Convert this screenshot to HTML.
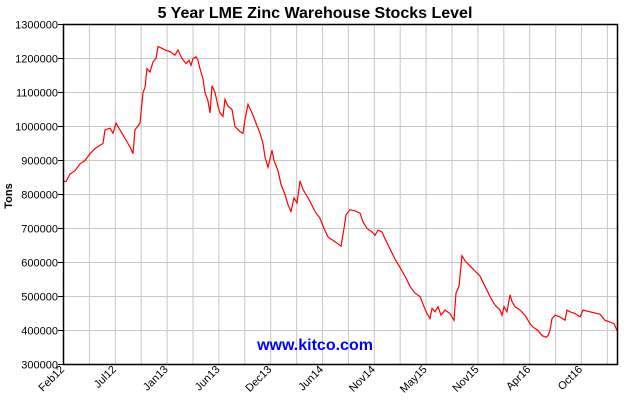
<!DOCTYPE html>
<html><head><meta charset="utf-8"><style>
body{margin:0;background:#fff;}
svg{display:block;font-family:"Liberation Sans",Arial,sans-serif;}
</style></head><body>
<svg id="s" width="630" height="400" xmlns="http://www.w3.org/2000/svg">
<text x="315" y="18" text-anchor="middle" font-size="16" font-weight="bold">5 Year LME Zinc Warehouse Stocks Level</text>
<text transform="translate(12,196) rotate(-90)" text-anchor="middle" font-size="11" font-weight="bold">Tons</text>
<g id="grid" stroke="#c8c8c8" stroke-width="1"></g>
<g id="lab" font-size="11"></g>
<polyline id="ln" fill="none" stroke="#ff0000" stroke-width="1.2"/>
<text x="315" y="350" text-anchor="middle" font-size="16" font-weight="bold" fill="#0000ff">www.kitco.com</text>
<rect x="63.5" y="24.5" width="554" height="340" fill="none" stroke="#000" stroke-width="1.5"/>
</svg>
<script>
var g=document.getElementById('grid'),lab=document.getElementById('lab'),ns='http://www.w3.org/2000/svg';
function el(p,t,a,txt){var e=document.createElementNS(ns,t);for(var k in a)e.setAttribute(k,a[k]);if(txt)e.textContent=txt;p.appendChild(e);return e;}
for(var i=0;i<=10;i++){var y=24.5+i*34;el(g,'line',{x1:63.5,x2:617.5,y1:y,y2:y});
el(lab,'line',{x1:58,x2:63.5,y1:y,y2:y,stroke:'#000'});
el(lab,'text',{x:58,y:y+4,'text-anchor':'end'},String(1300000-i*100000));}
for(var i=1;i<22;i++){var x=63.5+i*25.9;el(g,'line',{x1:x,x2:x,y1:24,y2:364});}
var xl=['Feb12','Jul12','Jan13','Jun13','Dec13','Jun14','Nov14','May15','Nov15','Apr16','Oct16'];
for(var i=0;i<xl.length;i++){var x=65+i*51.8;el(lab,'text',{transform:'translate('+x+',370) rotate(-45)','text-anchor':'end'},xl[i]);}
var d=[[63,840],[66,838],[70,860],[75,870],[80,890],[85,900],[90,920],[95,935],[100,945],[103,950],[105,990],[110,995],[113,980],[116,1010],[120,990],[125,965],[130,940],[133,920],[135,990],[140,1010],[143,1100],[145,1115],[147,1170],[150,1160],[153,1190],[156,1200],[158,1235],[162,1230],[165,1225],[170,1220],[175,1210],[178,1225],[182,1200],[186,1185],[189,1195],[191,1180],[193,1200],[196,1205],[198,1195],[200,1170],[203,1140],[205,1100],[208,1075],[210,1040],[212,1120],[215,1100],[218,1060],[220,1040],[223,1030],[225,1080],[228,1060],[232,1050],[235,1000],[240,985],[243,980],[245,1020],[248,1065],[252,1040],[256,1010],[260,980],[263,950],[265,910],[268,880],[272,930],[274,900],[278,870],[281,830],[285,800],[288,770],[291,750],[294,790],[297,775],[300,840],[303,815],[306,800],[310,780],[315,750],[320,730],[324,700],[328,675],[333,665],[338,655],[341,648],[344,700],[346,740],[350,755],[355,752],[360,745],[363,720],[367,700],[372,690],[375,680],[378,695],[382,690],[385,670],[390,640],[395,610],[400,585],[405,560],[410,530],[415,510],[420,500],[424,470],[427,450],[430,435],[432,465],[435,455],[438,470],[441,445],[445,460],[450,450],[454,430],[456,510],[459,530],[462,620],[465,605],[470,590],[475,575],[480,560],[485,530],[490,500],[495,475],[500,460],[502,445],[504,470],[507,455],[510,505],[512,485],[515,470],[520,460],[525,445],[527,435],[530,420],[533,410],[538,400],[542,385],[546,380],[548,385],[550,400],[552,435],[555,445],[560,440],[565,430],[567,460],[570,455],[575,450],[580,440],[583,460],[590,455],[600,448],[605,430],[610,425],[614,420],[617,400]];
document.getElementById('ln').setAttribute('points',d.map(function(p){return p[0]+','+(364.5-(p[1]-300)*0.34).toFixed(1)}).join(' '));
</script>
</body></html>
